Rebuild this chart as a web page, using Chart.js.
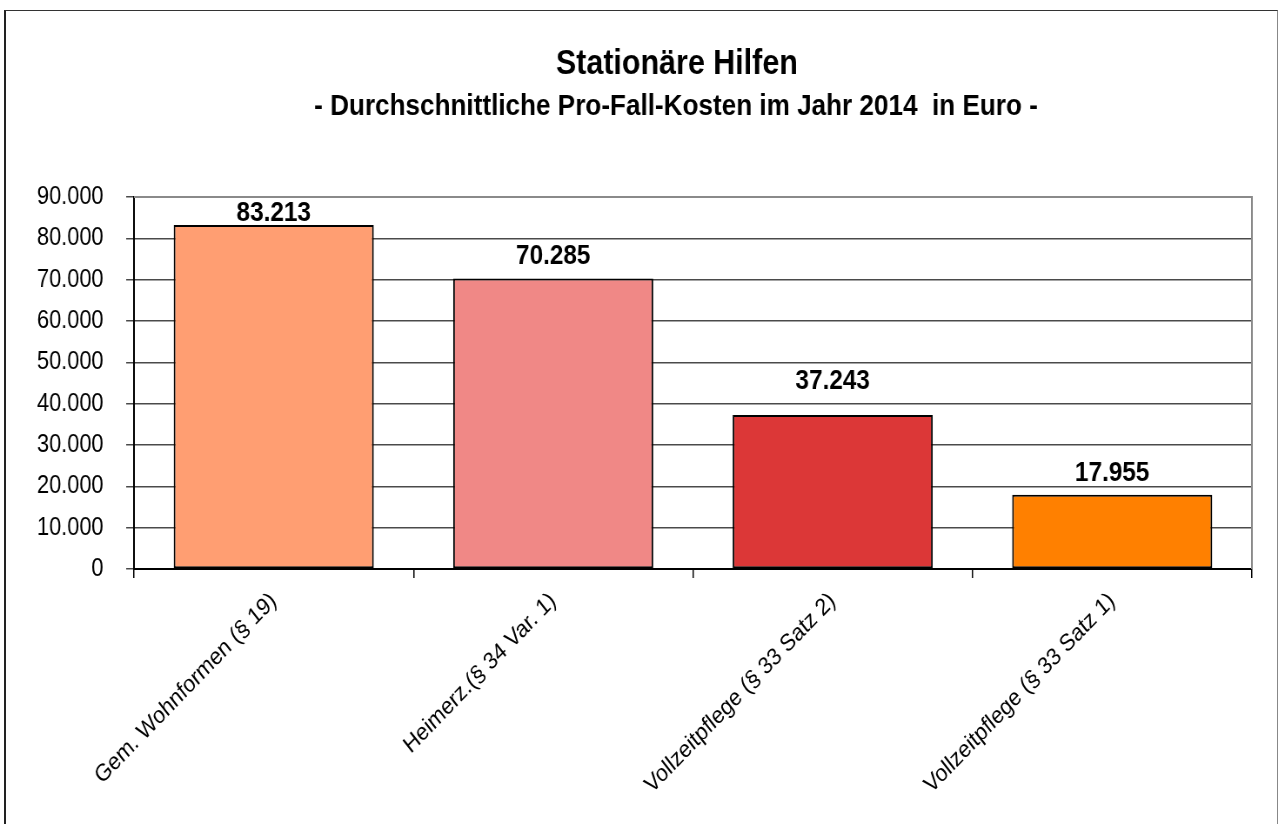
<!DOCTYPE html>
<html>
<head>
<meta charset="utf-8">
<script src="https://cdn.jsdelivr.net/npm/chart.js@4/dist/chart.umd.min.js"></script>
<style>
  html, body { margin: 0; padding: 0; background: #fff; overflow: hidden; }
  body { width: 1282px; height: 824px; position: relative; }
  #frame { position: absolute; left: 4px; top: 10px; width: 1274px; height: 840px;
           border-left: 2px solid #222; border-top: 1.5px solid #333; border-right: 1px solid #888; box-sizing: border-box; }
  #c { position: absolute; left: 0; top: 0; transform: scaleX(0.87); transform-origin: 0 0; }
</style>
</head>
<body>
<div id="frame"></div>
<canvas id="c" width="1474" height="824"></canvas>
<script>
const titleText = 'Stationäre Hilfen';
const subtitleText = '- Durchschnittliche Pro-Fall-Kosten im Jahr 2014  in Euro -';
const categories = ['Gem. Wohnformen (§ 19)', 'Heimerz.(§ 34 Var. 1)', 'Vollzeitpflege (§ 33 Satz 2)', 'Vollzeitpflege (§ 33 Satz 1)'];
const values = [83213, 70285, 37243, 17955];
const barColors = ['#FF9E72', '#F08886', '#DC3737', '#FF8000'];
const labelGaps = [4, 14, 26, 14];
const yMin = 0, yMax = 90000, yStep = 10000;

const FONT = "'Liberation Sans', Arial, Helvetica, sans-serif";

function fmt(v) {
  return String(Math.round(v)).replace(/\B(?=(\d{3})+(?!\d))/g, '.');
}

const titlePlugin = {
  id: 'titles',
  afterDraw(chart) {
    const ctx = chart.ctx;
    ctx.save();
    ctx.fillStyle = '#000';
    ctx.textAlign = 'center';
    ctx.textBaseline = 'alphabetic';
    ctx.font = 'bold 35px ' + FONT;
    ctx.fillText(titleText, 778, 74);
    ctx.font = 'bold 30px ' + FONT;
    ctx.fillText(subtitleText, 777, 115);
    ctx.restore();
  }
};

const frameLines = {
  id: 'frameLines',
  beforeDatasetsDraw(chart) {
    const a = chart.chartArea, ctx = chart.ctx;
    ctx.save();
    ctx.strokeStyle = '#8a8a8a';
    ctx.lineWidth = 2;
    ctx.beginPath();
    ctx.moveTo(a.left, a.top);
    ctx.lineTo(a.right, a.top);
    ctx.lineTo(a.right, a.bottom);
    ctx.stroke();
    ctx.restore();
  }
};

const valueLabels = {
  id: 'valueLabels',
  afterDatasetsDraw(chart) {
    const ctx = chart.ctx;
    const meta = chart.getDatasetMeta(0);
    ctx.save();
    ctx.fillStyle = '#000';
    ctx.textAlign = 'center';
    ctx.textBaseline = 'alphabetic';
    ctx.font = 'bold 28px ' + FONT;
    meta.data.forEach((bar, i) => {
      ctx.fillText(fmt(values[i]), bar.x, bar.y - labelGaps[i]);
    });
    ctx.restore();
  }
};

new Chart(document.getElementById('c'), {
  type: 'bar',
  data: {
    labels: categories,
    datasets: [{
      data: values,
      backgroundColor: barColors,
      borderColor: '#000',
      borderWidth: 2,
      borderSkipped: false,
      barPercentage: 0.716,
      categoryPercentage: 1.0
    }]
  },
  options: {
    responsive: false,
    animation: false,
    devicePixelRatio: 1,
    layout: { padding: { top: 197, right: 35, left: 0, bottom: 0 } },
    plugins: { legend: { display: false }, tooltip: { enabled: false }, title: { display: false } },
    scales: {
      x: {
        offset: true,
        grid: { offset: true, drawOnChartArea: false, drawTicks: true, tickLength: 9, color: '#000', lineWidth: 1.5 },
        border: { display: true, color: '#000', width: 2 },
        ticks: { minRotation: 42, maxRotation: 42, color: '#000', padding: 9, font: { family: FONT, size: 24 }, autoSkip: false },
        afterFit(scale) { scale.height = 255; }
      },
      y: {
        min: yMin, max: yMax,
        grid: { color: '#4a4a4a', lineWidth: 1.5, drawTicks: true, tickLength: 9 },
        border: { display: true, color: '#000', width: 2 },
        ticks: { stepSize: yStep, color: '#000', padding: 26, font: { family: FONT, size: 25 }, callback: v => fmt(v) },
        afterFit(scale) { scale.width = 154; }
      }
    }
  },
  plugins: [frameLines, valueLabels, titlePlugin]
});
</script>
</body>
</html>
